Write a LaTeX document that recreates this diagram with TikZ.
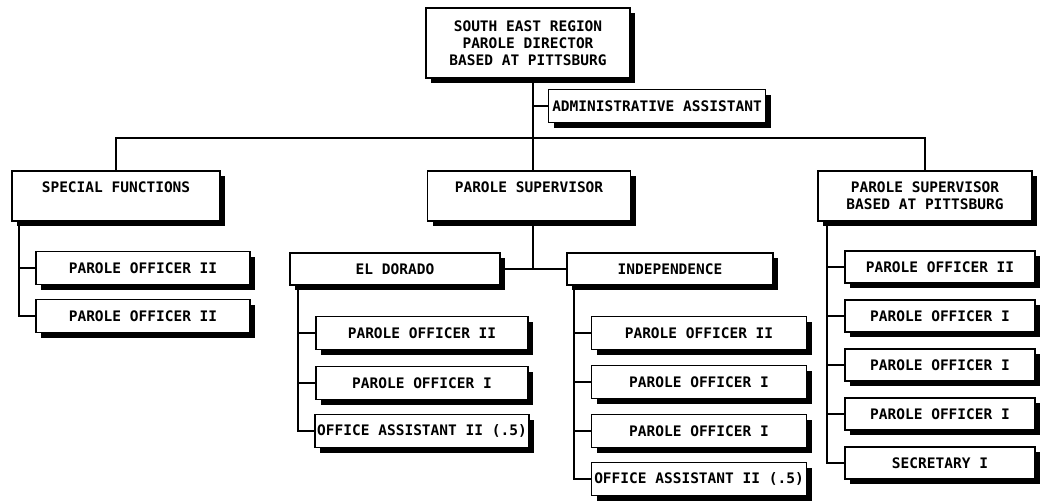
\documentclass[tikz,border=0pt]{standalone}
\usepackage{fontspec}
\setmonofont{DejaVu Sans Mono}
\usepackage{tikz}
\usetikzlibrary{positioning,shadows}

\begin{document}
\begin{tikzpicture}[x=1pt, y=-1pt,
    post/.style={draw, line width=1.8pt, fill=white, align=center, inner sep=2pt,
      font=\ttfamily\bfseries\fontsize{14.5}{17}\selectfont,
      drop shadow={fill=black, opacity=1, shadow xshift=5pt, shadow yshift=-5pt}},
    link/.style={line width=1.8pt}]
  \useasboundingbox (0,0) rectangle (1041,501);

  % top of the region
  \node[post, minimum width=204, minimum height=70] (dir) at (528,43)
    {SOUTH EAST REGION\\PAROLE DIRECTOR\\BASED AT PITTSBURG};
  \node[post, minimum width=217, minimum height=33] (admin) at (657,106)
    {ADMINISTRATIVE ASSISTANT};

  % second level
  \node[post, minimum width=208, minimum height=50] (spec) at (116,196)
    {SPECIAL FUNCTIONS\\\mbox{}};
  \node[post, minimum width=203, minimum height=50] (sup) at (529,196)
    {PAROLE SUPERVISOR\\\mbox{}};
  \node[post, minimum width=214, minimum height=50] (supp) at (925,196)
    {PAROLE SUPERVISOR\\BASED AT PITTSBURG};

  % offices under the middle supervisor
  \node[post, minimum width=210, minimum height=32] (eld) at (395,269) {EL DORADO};
  \node[post, minimum width=206, minimum height=32] (ind) at (670,269) {INDEPENDENCE};

  % special functions staff
  \node[post, minimum width=214, minimum height=33] (s1) at (143,268) {PAROLE OFFICER II};
  \node[post, minimum width=214, minimum height=33] (s2) at (143,316) {PAROLE OFFICER II};

  % el dorado staff
  \node[post, minimum width=212, minimum height=33] (e1) at (422,333) {PAROLE OFFICER II};
  \node[post, minimum width=212, minimum height=33] (e2) at (422,383) {PAROLE OFFICER I};
  \node[post, minimum width=212, minimum height=33] (e3) at (422,431) {OFFICE ASSISTANT II (.5)};

  % independence staff
  \node[post, minimum width=215, minimum height=33] (i1) at (699,333) {PAROLE OFFICER II};
  \node[post, minimum width=215, minimum height=33] (i2) at (699,382) {PAROLE OFFICER I};
  \node[post, minimum width=215, minimum height=33] (i3) at (699,431) {PAROLE OFFICER I};
  \node[post, minimum width=215, minimum height=33] (i4) at (699,479) {OFFICE ASSISTANT II (.5)};

  % pittsburg staff
  \node[post, minimum width=190, minimum height=32] (p1) at (940,267) {PAROLE OFFICER II};
  \node[post, minimum width=190, minimum height=32] (p2) at (940,316) {PAROLE OFFICER I};
  \node[post, minimum width=190, minimum height=32] (p3) at (940,365) {PAROLE OFFICER I};
  \node[post, minimum width=190, minimum height=32] (p4) at (940,414) {PAROLE OFFICER I};
  \node[post, minimum width=190, minimum height=32] (p5) at (940,463) {SECRETARY I};

  % main trunk and bus
  \coordinate (hub) at (533,138);
  \coordinate (split) at (533,268);
  \draw[link] (dir.south -| hub) -- (hub);
  \draw[link] (admin.west) -- (admin.west -| hub);
  \draw[link] (spec.north) |- (hub) -| (supp.north);
  \draw[link] (hub) -- (sup.north -| hub);
  \draw[link] (sup.south -| hub) -- (split);
  \draw[link] (eld.east) -- (ind.west);

  % staff lines
  \foreach \c in {s1,s2}
    \draw[link] ([xshift=8pt]spec.south west) |- (\c.west);
  \foreach \c in {e1,e2,e3}
    \draw[link] ([xshift=9pt]eld.south west) |- (\c.west);
  \foreach \c in {i1,i2,i3,i4}
    \draw[link] ([xshift=8pt]ind.south west) |- (\c.west);
  \foreach \c in {p1,p2,p3,p4,p5}
    \draw[link] ([xshift=10pt]supp.south west) |- (\c.west);
\end{tikzpicture}
\end{document}
